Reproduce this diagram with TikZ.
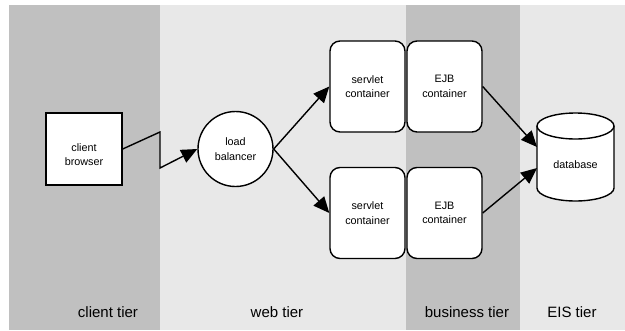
\documentclass[tikz,border=0pt]{standalone}
\usepackage{fontspec}
\setmainfont{Liberation Sans}
\usetikzlibrary{arrows.meta,shapes.geometric}
\definecolor{darkband}{HTML}{C0C0C0}
\definecolor{lightband}{HTML}{E8E8E8}
\begin{document}
\begin{tikzpicture}[x=1pt,y=-1pt,
  txt/.style={align=center,font=\fontsize{10.8}{14.5}\selectfont,inner sep=0pt},
  box/.style={txt,draw,line width=1.4pt,fill=white},
  cont/.style={box,rounded corners=10pt,minimum width=75pt,minimum height=91pt},
  tip/.style={-{Triangle[length=16pt,width=14pt]}},
  link/.style={line width=1.4pt,tip},
  tier/.style={font=\fontsize{15}{17}\selectfont,anchor=base}]
\useasboundingbox (0,0) rectangle (625,330);
\fill[white] (0,0) rectangle (625,330);
\fill[darkband] (9,5) rectangle (160,330);
\fill[lightband] (160,5) rectangle (406,330);
\fill[darkband] (406,5) rectangle (520,330);
\fill[lightband] (520,5) rectangle (625,330);

\node[box,minimum width=76pt,minimum height=72pt] (cb) at (84,149) {};
\node[txt] (cbt) at (84,154.5) {client\\browser};
\node[box,circle,minimum size=75pt] (lb) at (235.5,149) {load\\balancer};
\node[cont] (s1) at (367.5,86.5) {servlet\\container};
\node[cont] (e1) at (444.5,86.5) {EJB\\container};
\node[cont] (s2) at (367.5,213) {servlet\\container};
\node[cont] (e2) at (444.5,213) {EJB\\container};

% database cylinder
\draw[line width=1.4pt,fill=white] (537,126) -- (537,188) arc[start angle=180,end angle=0,x radius=38.5,y radius=13] -- (614,126);
\draw[line width=1.4pt,fill=white] (575.5,126) ellipse[x radius=38.5,y radius=13];
\node[txt] (db) at (575.5,165) {database};
\coordinate (dbin1) at (537,147);
\coordinate (dbin2) at (537,168);

\coordinate (z1) at (160,132);
\coordinate (z2) at (160,168);
\draw[line width=1.4pt,tip] (cb.east) -- (z1) -- (z2) -- (lb.west);
\draw[link] (lb.east) -- (s1.west);
\draw[link] (lb.east) -- (s2.west);
\draw[link] (e1.east) -- (dbin1);
\draw[link] (e2.east) -- (dbin2);

\node[tier] (t1) at (108,317) {client tier};
\node[tier] (t2) at (277,317) {web tier};
\node[tier] (t3) at (467,317) {business tier};
\node[tier] (t4) at (572,317) {EIS tier};
\end{tikzpicture}
\end{document}
